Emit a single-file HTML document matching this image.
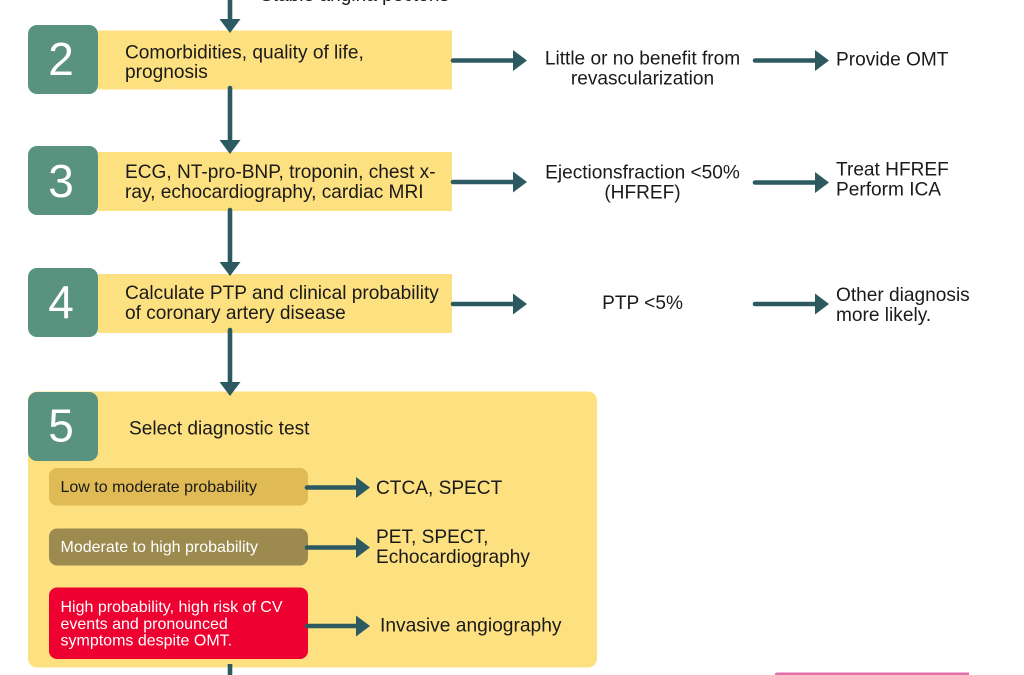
<!DOCTYPE html>
<html><head><meta charset="utf-8"><style>
html,body{margin:0;padding:0;background:#fff;width:1024px;height:675px;overflow:hidden}
svg{display:block}
text{font-family:"Liberation Sans",Arial,sans-serif;font-size:19.1px;fill:#1a1a1a}
.s{font-size:16px}
.w{fill:#fff}
.d{font-size:46px;fill:#fff;text-anchor:middle}
.m{text-anchor:middle}
</style></head><body>
<svg width="1024" height="675" viewBox="0 0 1024 675" xmlns="http://www.w3.org/2000/svg">
<defs>
<g id="h"><path d="M2 0H63" stroke="#2c5a60" stroke-width="4.6" stroke-linecap="round"/><path d="M62 -10.5L76 0L62 10.5Z" fill="#2c5a60"/></g>
<g id="hs"><path d="M2 0H52" stroke="#2c5a60" stroke-width="4.6" stroke-linecap="round"/><path d="M51 -10.5L65 0L51 10.5Z" fill="#2c5a60"/></g>
<g id="v"><path d="M0 2V55" stroke="#2c5a60" stroke-width="4.6" stroke-linecap="round"/><path d="M-10.5 54L0 68L10.5 54Z" fill="#2c5a60"/></g>
</defs>

<rect x="98" y="30.5" width="354" height="59" fill="#fde080"/>
<rect x="98" y="152" width="354" height="59" fill="#fde080"/>
<rect x="98" y="274" width="354" height="59" fill="#fde080"/>
<rect x="28" y="391.5" width="569" height="276" rx="9" fill="#fde080"/>

<rect x="28" y="25" width="70" height="69" rx="9" fill="#5a9280"/>
<rect x="28" y="146" width="70" height="69" rx="9" fill="#5a9280"/>
<rect x="28" y="268" width="70" height="69" rx="9" fill="#5a9280"/>
<rect x="28" y="392" width="70" height="69" rx="9" fill="#5a9280"/>
<text class="d" x="61" y="75">2</text>
<text class="d" x="61" y="197">3</text>
<text class="d" x="61" y="318">4</text>
<text class="d" x="61" y="441.5">5</text>

<use href="#v" x="230" y="-35"/>
<use href="#v" x="230" y="86"/>
<use href="#v" x="230" y="208"/>
<use href="#v" x="230" y="328"/>
<path d="M230 664V675" stroke="#2c5a60" stroke-width="4.6"/>

<use href="#h" x="451" y="60.5"/>
<use href="#h" x="451" y="182"/>
<use href="#h" x="451" y="304"/>
<use href="#h" x="753" y="60.5"/>
<use href="#h" x="753" y="182.5"/>
<use href="#h" x="753" y="304"/>

<rect x="49" y="468" width="259" height="37.5" rx="8" fill="#dfba55"/>
<rect x="49" y="528.5" width="259" height="37" rx="8" fill="#9c8a4f"/>
<rect x="49" y="587.5" width="259" height="71.5" rx="8" fill="#ee0030"/>
<use href="#hs" x="305" y="487.5"/>
<use href="#hs" x="305" y="547.5"/>
<use href="#hs" x="305" y="626"/>

<text x="260" y="1" textLength="189" lengthAdjust="spacingAndGlyphs">Stable angina pectoris</text>
<text x="125" y="58.5">Comorbidities, quality of life,</text>
<text x="125" y="78">prognosis</text>
<text x="125" y="178">ECG, NT-pro-BNP, troponin, chest x-</text>
<text x="125" y="198">ray, echocardiography, cardiac MRI</text>
<text x="125" y="299">Calculate PTP and clinical probability</text>
<text x="125" y="319">of coronary artery disease</text>

<text class="m" x="642.5" y="64.5">Little or no benefit from</text>
<text class="m" x="642.5" y="84.5">revascularization</text>
<text class="m" x="642.5" y="178.5">Ejectionsfraction &lt;50%</text>
<text class="m" x="642.5" y="198.5">(HFREF)</text>
<text class="m" x="642.5" y="309">PTP &lt;5%</text>
<text x="836" y="65.5">Provide OMT</text>
<text x="836" y="175.5">Treat HFREF</text>
<text x="836" y="195.5">Perform ICA</text>
<text x="836" y="301">Other diagnosis</text>
<text x="836" y="321">more likely.</text>

<text x="129" y="434.5">Select diagnostic test</text>
<text class="s" x="60.500" y="492">Low to moderate probability</text>
<text class="s w" x="60.500" y="552">Moderate to high probability</text>
<text class="s w" x="60.500" y="612">High probability, high risk of CV</text>
<text class="s w" x="60.500" y="629">events and pronounced</text>
<text class="s w" x="60.500" y="645.500">symptoms despite OMT.</text>
<text x="376" y="494">CTCA, SPECT</text>
<text x="376" y="543">PET, SPECT,</text>
<text x="376" y="563">Echocardiography</text>
<text x="380" y="631.5" textLength="181.500" lengthAdjust="spacingAndGlyphs">Invasive angiography</text>

<path d="M775 675V674Q775 672.500 778 672.500H969V675Z" fill="#e26fa9"/>
</svg>
</body></html>
